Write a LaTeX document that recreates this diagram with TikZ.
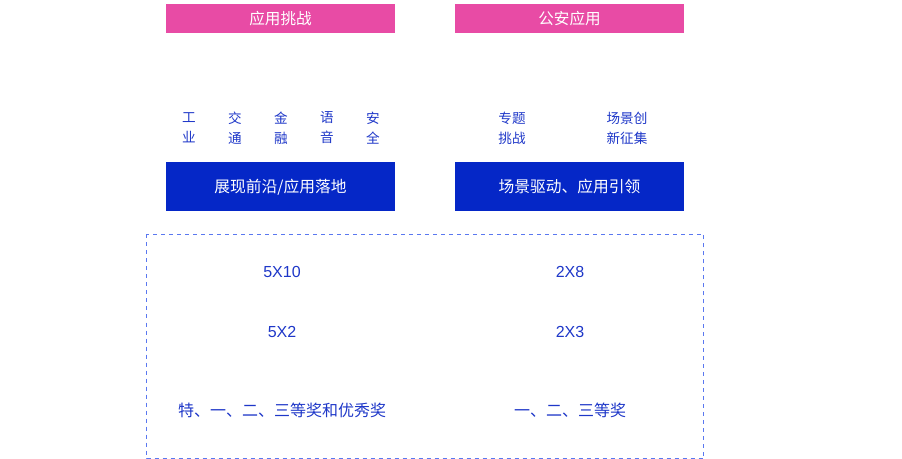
\documentclass[tikz,border=0pt]{standalone}
\usepackage{fontspec}
\setmainfont{Noto Sans CJK SC}
\newfontfamily\numfont{Liberation Sans}
\definecolor{hdpink}{RGB}{232,75,165}
\definecolor{bardeep}{RGB}{5,39,199}
\definecolor{txtblue}{RGB}{30,55,200}
\definecolor{dashblue}{RGB}{90,120,240}
\usetikzlibrary{positioning}

\begin{document}
\begin{tikzpicture}[
  x=0.75pt,y=-0.75pt,
  every node/.style={font=\fontsize{9.5}{11}\selectfont},
  headbox/.style={fill=hdpink,text=white,minimum width=171.75pt,minimum height=21.75pt,
                  inner sep=0pt,font=\fontsize{11.7}{13}\selectfont},
  barbox/.style={fill=bardeep,text=white,minimum width=171.75pt,minimum height=36.75pt,
                 inner sep=0pt,font=\fontsize{11.8}{13}\selectfont},
  tag/.style={text=txtblue,align=center,inner sep=0pt,
              font=\fontsize{10.2}{15}\selectfont},
  stat/.style={text=txtblue,inner sep=0pt,font=\fontsize{12}{14}\selectfont},
  numstat/.style={stat,font=\numfont\fontsize{12}{14}\selectfont},
]
  \useasboundingbox (0,0) rectangle (902,459);

  % headers
  \node[headbox] (hleft) at (280.5,18.5) {应用挑战};
  \node[headbox] (hright) at (569.5,18.5) {公安应用};

  % track tags
  \node[tag] (tgone) at (189,128) {工\\业};
  \node[tag] (tgtwo) at (235,128) {交\\通};
  \node[tag] (tgthree) at (281,128) {金\\融};
  \node[tag] (tgfour) at (327,128) {语\\音};
  \node[tag] (tgfive) at (373,128) {安\\全};
  \node[tag] (tgsix) at (512,128) {专题\\挑战};
  \node[tag] (tgseven) at (627,128) {场景创\\新征集};

  % blue bars
  \node[barbox] (bleft) at (280.5,187) {展现前沿/应用落地};
  \node[barbox] (bright) at (569.5,187) {场景驱动、应用引领};

  % awards frame
  \draw[dashblue,dashed,thin] (146.5,234.5) rectangle (703.5,458.5);
  \node[numstat] (nleft) at (282,272) {5X10};
  \node[numstat] (nright) at (570,272) {2X8};
  \node[numstat] (wleft) at (282,332) {5X2};
  \node[numstat] (wright) at (570,332) {2X3};
  \node[stat] (pleft) at (282,410) {特、一、二、三等奖和优秀奖};
  \node[stat] (pright) at (570,410) {一、二、三等奖};
\end{tikzpicture}
\end{document}
